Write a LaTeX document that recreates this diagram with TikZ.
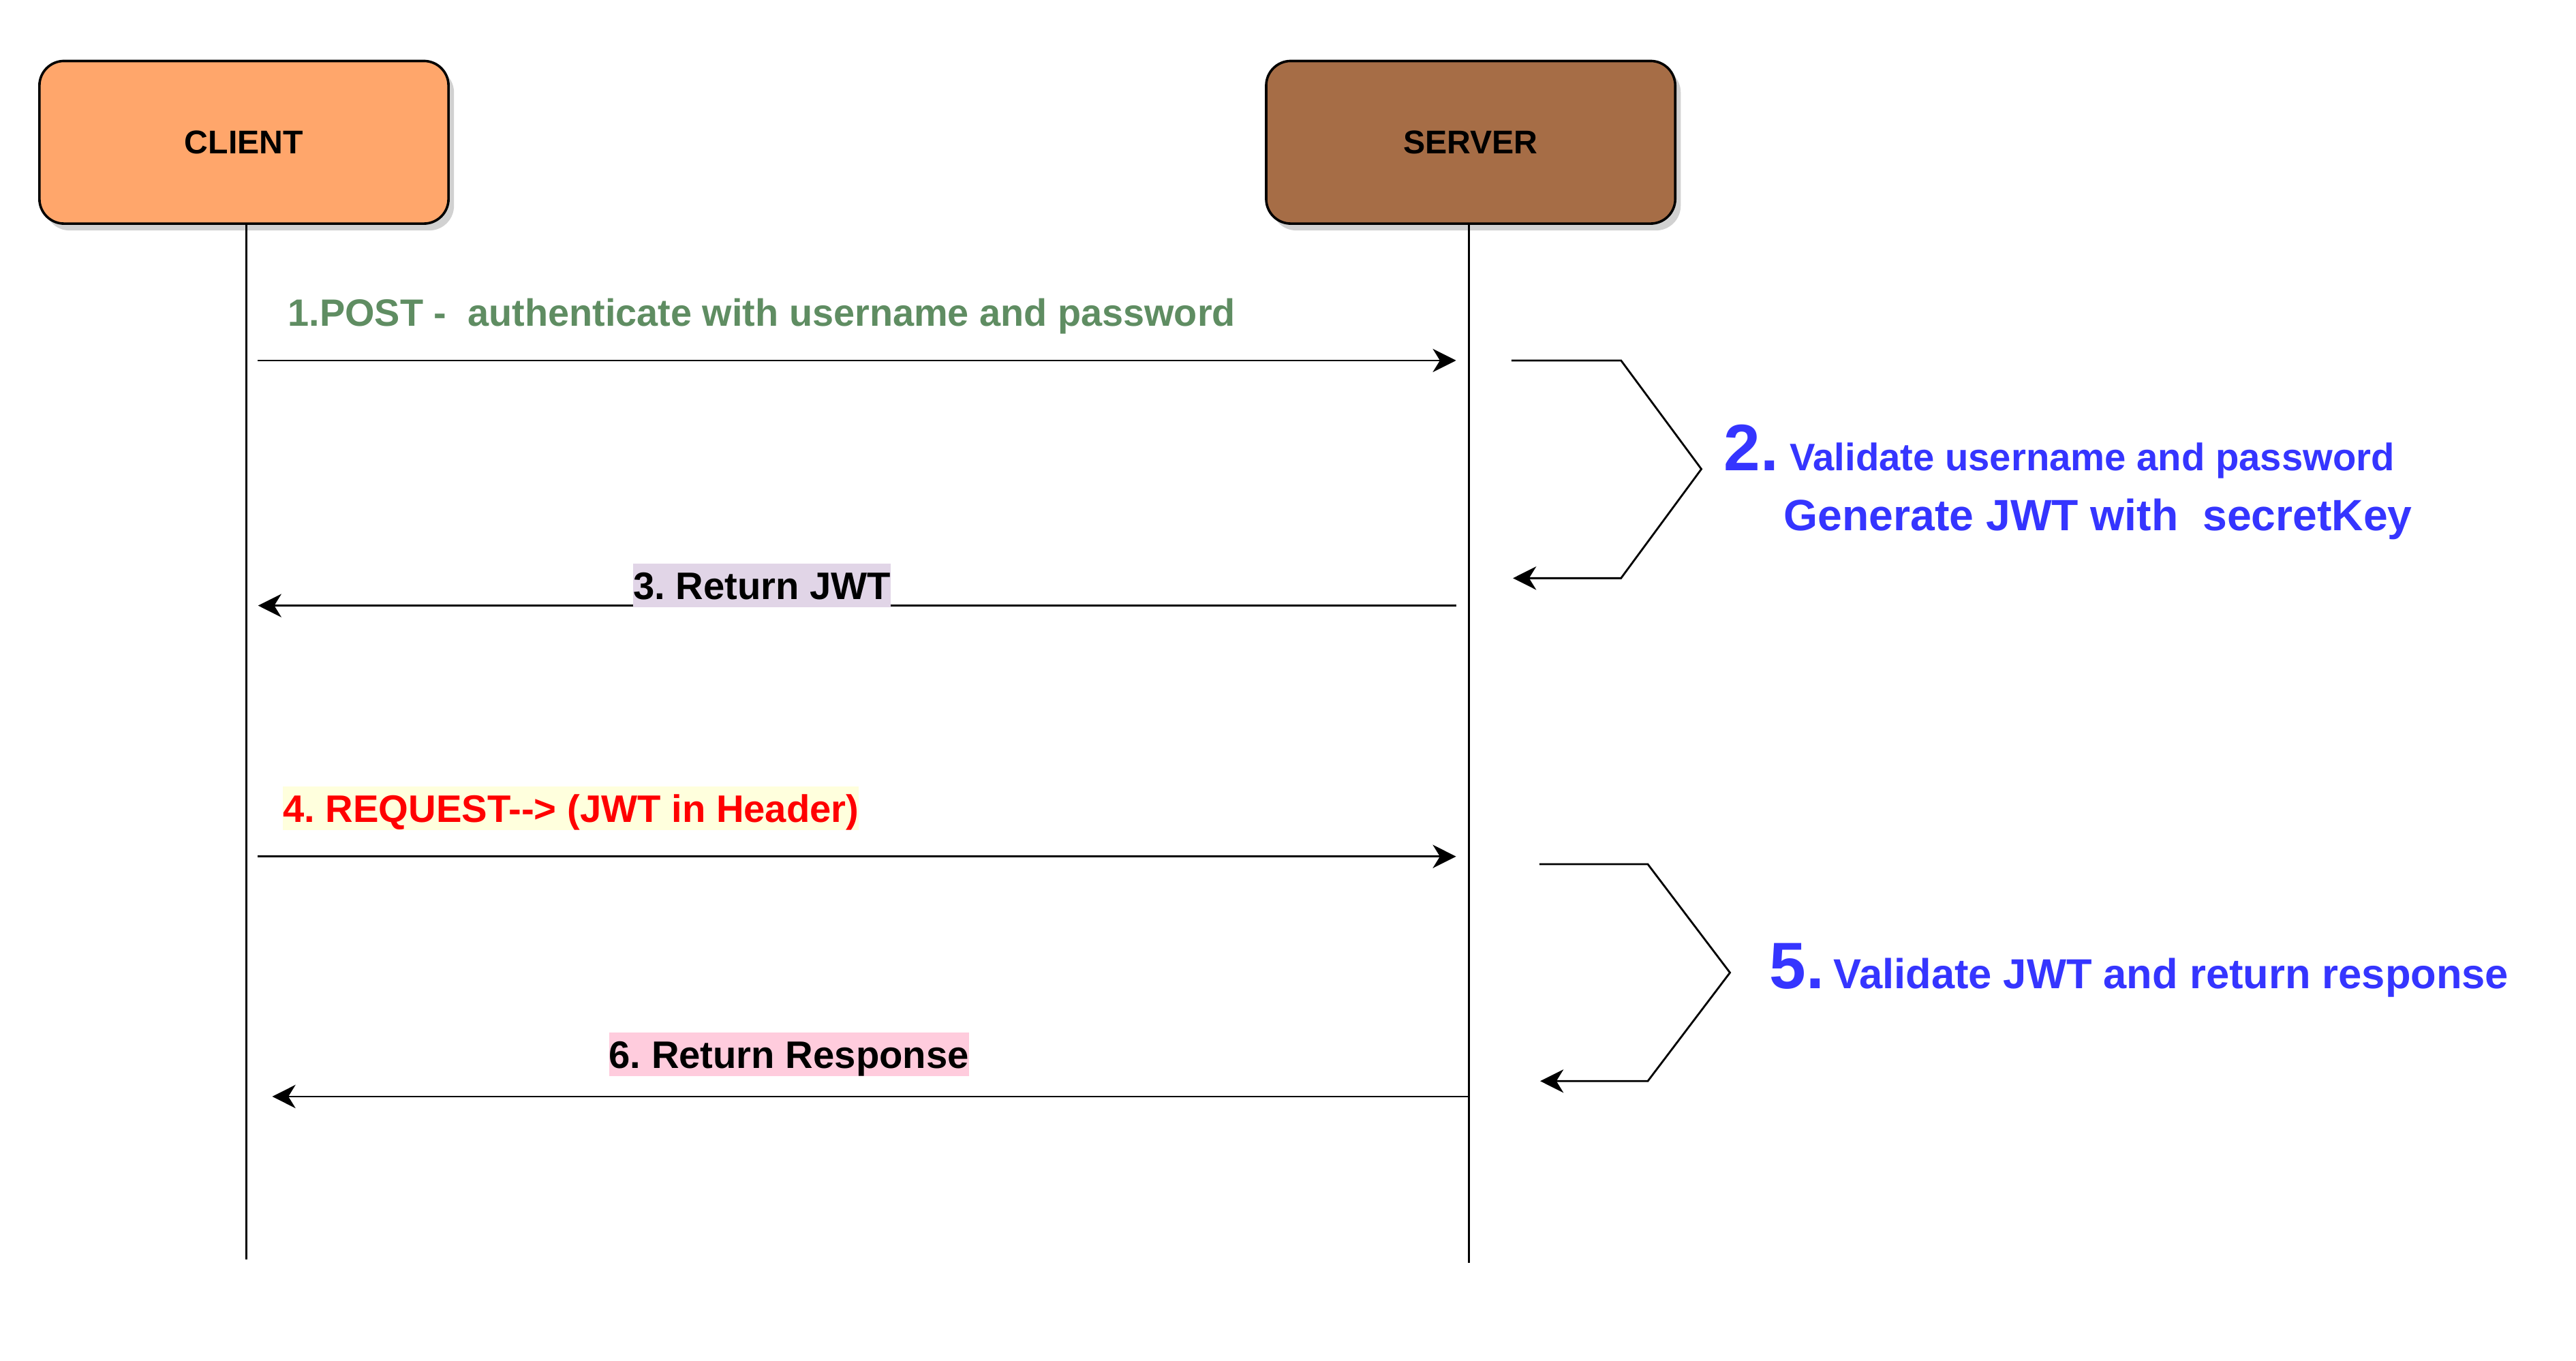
\documentclass[tikz,border=0pt]{standalone}
\usepackage{fontspec}
\setmainfont{Liberation Sans}
\usepackage{tikz}
\usetikzlibrary{arrows.meta,shadows}
\definecolor{clientOrange}{HTML}{FFA66B}
\definecolor{serverBrown}{HTML}{A66D46}
\definecolor{postGreen}{HTML}{5F8D62}
\definecolor{stepBlue}{HTML}{3535FF}
\definecolor{jwtLilac}{HTML}{E1D5E7}
\definecolor{reqYellow}{HTML}{FFFFDD}
\definecolor{respPink}{HTML}{FFCCDD}
\frenchspacing

\begin{document}
\begin{tikzpicture}[x=0.6pt,y=0.6pt,yscale=-1,xscale=1,
	actor/.style={draw, line width=0.9pt, rounded corners=9pt, minimum width=149.4pt, minimum height=59.4pt,
		font=\fontsize{12}{14}\selectfont\bfseries,
		drop shadow={shadow xshift=2pt, shadow yshift=-2.5pt, opacity=0.18, fill=black}},
	life/.style={line width=0.7pt},
	msg/.style={line width=0.7pt, -{Stealth[length=8.5pt, width=8.5pt, inset=2.6pt]}},
	msglabel/.style={anchor=base, inner xsep=0pt, inner ysep=0.3pt, text height=12.8pt, text depth=2.6pt,
		font=\fontsize{14}{16}\selectfont\bfseries},
	stepnum/.style={anchor=base west, inner sep=0pt, text=stepBlue, font=\fontsize{24}{28}\selectfont\bfseries},
	steptext/.style={anchor=base west, inner sep=0pt, text=stepBlue, font=\fontsize{14}{16}\selectfont\bfseries}]
			\useasboundingbox (0,0) rectangle (1568,828);

			% Actor Boxes
			\node [actor, fill=clientOrange] (client) at (148.5,86.6) {CLIENT};
			\node [actor, fill=serverBrown] (server) at (895.2,86.6) {SERVER};

			%Lifelines
			\coordinate (clientEnd) at (150,766.7);
			\coordinate (serverEnd) at (894,768.5);
			\draw [life] (client.south -| clientEnd) -- (clientEnd);
			\draw [life] (server.south -| serverEnd) -- (serverEnd);

			%Straight Lines  1. POST
			\coordinate (postFrom) at (157,219.4);
			\coordinate (postTo) at (886.3,219.4);
			\draw [msg] (postFrom) -- (postTo);
			%Self Loop  2. validate
			\coordinate (checkA) at (920,219.4);
			\coordinate (checkB) at (986.7,219.4);
			\coordinate (checkC) at (1035.6,285.5);
			\coordinate (checkD) at (986.7,351.9);
			\coordinate (checkE) at (920.9,351.9);
			\draw [msg] (checkA) -- (checkB) -- (checkC) -- (checkD) -- (checkE);
			%Straight Lines  3. return JWT
			\coordinate (jwtFrom) at (886.3,368.6);
			\coordinate (jwtTo) at (157.1,368.6);
			\draw [msg] (jwtFrom) -- (jwtTo);
			%Straight Lines  4. request
			\coordinate (reqFrom) at (157,521.3);
			\coordinate (reqTo) at (886.3,521.3);
			\draw [msg] (reqFrom) -- (reqTo);
			%Self Loop  5. validate JWT
			\coordinate (verifyA) at (937,526);
			\coordinate (verifyB) at (1003,526);
			\coordinate (verifyC) at (1053,592);
			\coordinate (verifyD) at (1003,658);
			\coordinate (verifyE) at (937.5,658);
			\draw [msg] (verifyA) -- (verifyB) -- (verifyC) -- (verifyD) -- (verifyE);
			%Straight Lines  6. response
			\coordinate (respFrom) at (894,667.4);
			\coordinate (respTo) at (165.7,667.4);
			\draw [msg] (respFrom) -- (respTo);

			% Text Node
			\node [anchor=base west, inner sep=0pt, text=postGreen, font=\fontsize{13.9}{16}\selectfont\bfseries] (postLabel) at (175,198.4) {1.POST -~ authenticate with username and password};
			% Text Node
			\node [stepnum] (checkNum) at (1049,286.6) {2.};
			% Text Node
			\node [steptext] (checkLine1) at (1089,286.6) {Validate username and password};
			% Text Node
			\node [steptext, font=\fontsize{16}{18}\selectfont\bfseries] (checkLine2) at (1085.6,322.8) {Generate JWT with~ secretKey};
			% Text Node
			\node [msglabel, fill=jwtLilac] (jwtLabel) at (463.8,364.8) {3. Return JWT};
			% Text Node
			\node [msglabel, fill=reqYellow, text=red] (reqLabel) at (347.5,500.5) {4. REQUEST-{}-> (JWT in Header)};
			% Text Node
			\node [stepnum] (verifyNum) at (1076.7,601.8) {5.};
			% Text Node
			\node [steptext, font=\fontsize{15.3}{18}\selectfont\bfseries] (verifyLine) at (1115.7,601.8) {Validate JWT and return response};
			% Text Node
			\node [msglabel, fill=respPink] (respLabel) at (480.2,650.1) {6. Return Response};
		\end{tikzpicture}
\end{document}
